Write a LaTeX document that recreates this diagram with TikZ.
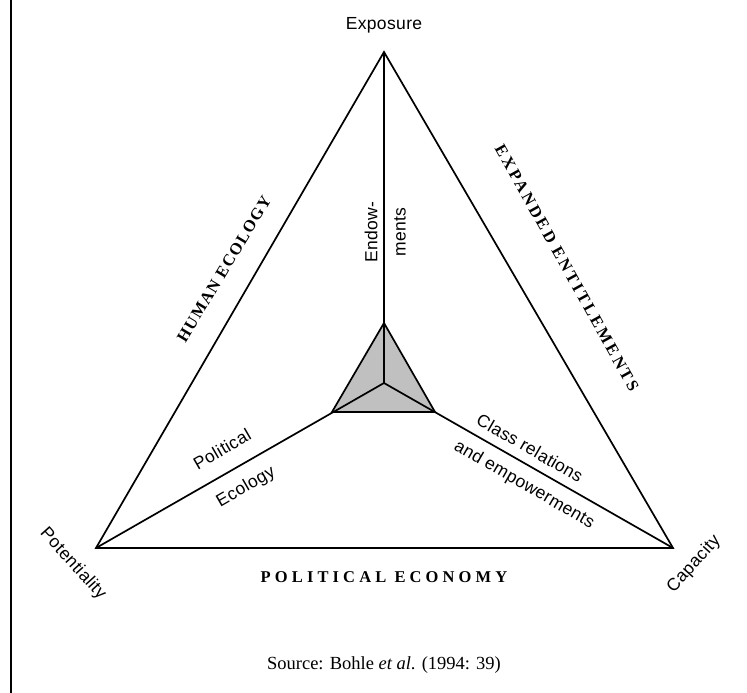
\documentclass[tikz,border=0pt]{standalone}
\usepackage{fontspec}
\setmainfont{Liberation Serif}
\newfontfamily\labelfont[LetterSpace=2]{Liberation Sans}
\newfontfamily\sideA[LetterSpace=8]{Liberation Serif}
\newfontfamily\sideB[LetterSpace=17]{Liberation Serif}
\newfontfamily\sideC[LetterSpace=25]{Liberation Serif}
\definecolor{innergray}{HTML}{C0C0C0}
\begin{document}
\begin{tikzpicture}[x=1pt,y=-1pt,
  edge/.style={line width=1.7pt, line join=miter},
  lab/.style={font=\labelfont\fontsize{17.5}{20}\selectfont, inner sep=0pt},
  axis/.style={inner sep=0pt}]
\useasboundingbox (0,0) rectangle (747,693);

% frame rule on the left
\draw[line width=2pt] (11,0) -- (11,693);

% outer triangle corners
\coordinate (E) at (384,52);
\coordinate (P) at (96,548);
\coordinate (C) at (673,548);
% inner triangle
\coordinate (M)  at (384,383);
\coordinate (it) at (384,323);
\coordinate (il) at (332,412);
\coordinate (ir) at (435,412);

\fill[innergray] (it) -- (il) -- (ir) -- cycle;
\draw[edge] (E) -- (P) -- (C) -- cycle;
\draw[edge] (M) -- (E);
\draw[edge] (M) -- (P);
\draw[edge] (M) -- (C);
\draw[edge] (it) -- (il) -- (ir) -- cycle;

% corner labels
\node[lab] (exposure) at (384,25) {Exposure};
\node[lab, rotate=-48] (potent) at (73,564) {Potentiality};
\node[lab, rotate=48] (capac) at (694,564) {Capacity};

% spoke labels
\node[lab, rotate=90] (endow) at (371,232) {Endow-};
\node[lab, rotate=90] (ments) at (400,232) {ments};
\node[lab, rotate=30] (polit) at (222,449) {Political};
\node[lab, rotate=30] (ecol) at (246,487) {Ecology};
\node[lab, rotate=-30] (class) at (530,448) {Class relations};
\node[lab, rotate=-30] (empow) at (524,485) {and empowerments};

% side labels
\node[axis, font=\sideA\bfseries\fontsize{16.5}{19}\selectfont, rotate=59] (hum) at (224,269) {HUMAN ECOLOGY};
\node[axis, font=\sideB\bfseries\fontsize{16.5}{19}\selectfont, rotate=-61] (expd) at (567,268) {EXPANDED ENTITLEMENTS};
\node[axis, font=\sideC\bfseries\fontsize{16.5}{19}\selectfont] (pe) at (384,577) {POLITICAL ECONOMY};

% source line
\node[font=\fontsize{18.5}{22}\selectfont, inner sep=0pt] (src) at (384,665) {Source: Bohle \textit{et al}. (1994: 39)};
\end{tikzpicture}
\end{document}
